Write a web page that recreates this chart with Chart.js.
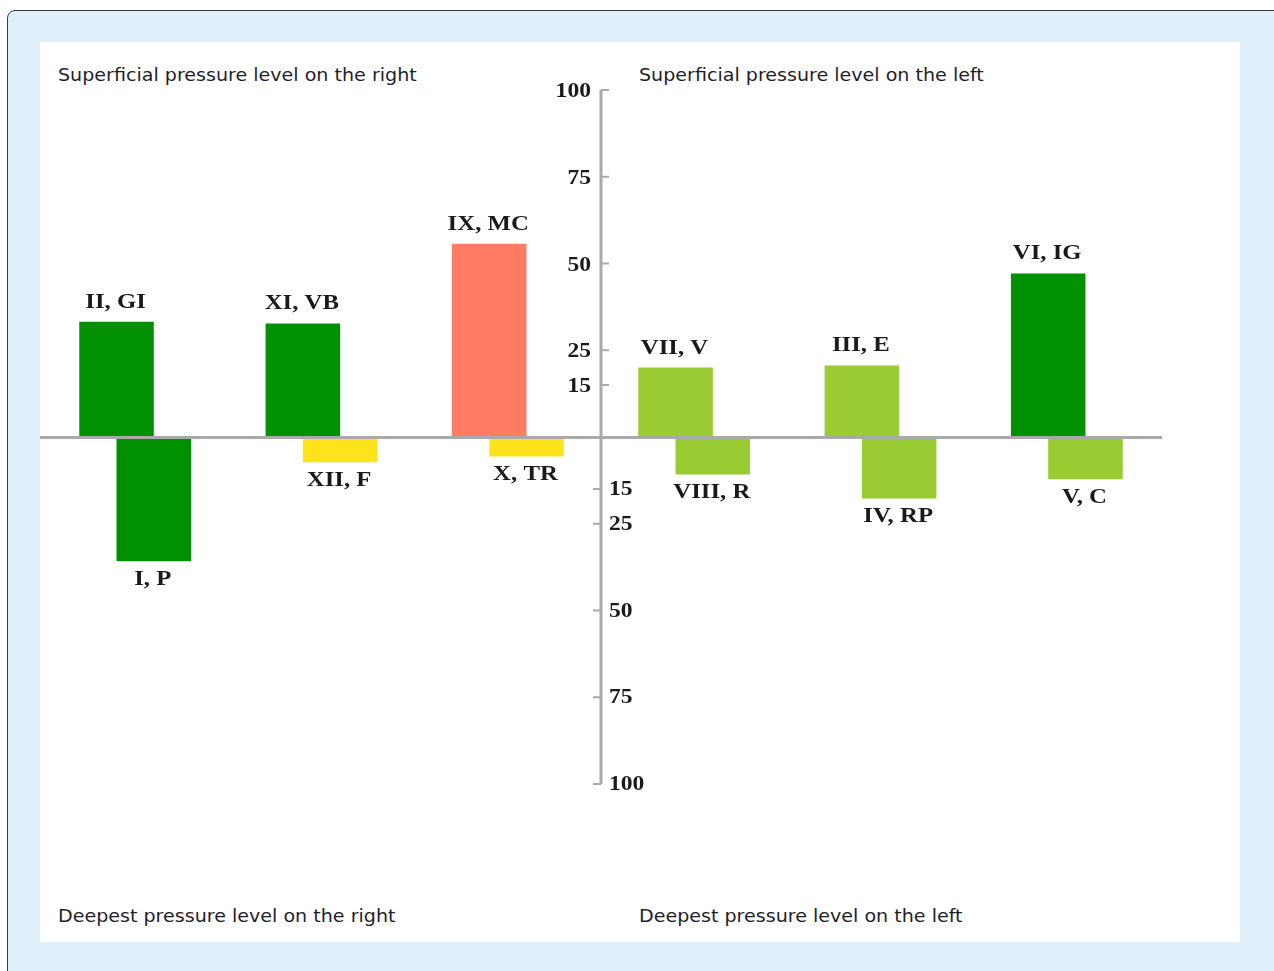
<!DOCTYPE html>
<html>
<head>
<meta charset="utf-8">
<script src="https://cdn.jsdelivr.net/npm/chart.js@4/dist/chart.umd.min.js"></script>
<style>
  html, body { margin: 0; padding: 0; background: #fff; }
  body { width: 1274px; height: 971px; position: relative; overflow: hidden; }
  .frame { position: absolute; left: 7px; top: 10px; width: 1290px; height: 1000px;
    background: #dff0fb; border: 1.5px solid #3a3a3a; border-radius: 8px; }
  .panel { position: absolute; left: 40px; top: 42px; width: 1200px; height: 900px; background: #fff; }
  canvas { position: absolute; left: 0; top: 0; }
  .corner { position: absolute; font-family: Tahoma, "DejaVu Sans", sans-serif; font-size: 18px;
    color: #1e1e2a; white-space: nowrap; line-height: 20px;
    transform: scaleX(1.06); transform-origin: 0 50%; }
</style>
</head>
<body>
<div class="frame"></div>
<div class="panel"></div>
<div class="corner" style="left:58px;top:65px">Superficial pressure level on the right</div>
<div class="corner" style="left:639px;top:65px">Superficial pressure level on the left</div>
<div class="corner" style="left:58px;top:906px">Deepest pressure level on the right</div>
<div class="corner" style="left:639px;top:906px">Deepest pressure level on the left</div>
<canvas id="chart" width="1274" height="971"></canvas>
<script>
  // meridian pairs, one per slot: superficial (up) and deep (down)
  const upperLabels = ['II, GI', 'XI, VB', 'IX, MC', 'VII, V', 'III, E', 'VI, IG'];
  const lowerLabels = ['I, P', 'XII, F', 'X, TR', 'VIII, R', 'IV, RP', 'V, C'];
  const upperValues = [33.2, 32.7, 55.7, 20.0, 20.6, 47.1];
  const lowerValues = [-35.8, -7.3, -5.6, -10.8, -17.7, -12.2];
  const topTicks = [100, 75, 50, 25, 15];
  const bottomTicks = [15, 25, 50, 75, 100];

  const DARK = '#009000', LIGHT = '#99cc33', SALMON = '#ff7b63', YELLOW = '#ffe31a';
  const upperColors = [DARK, DARK, SALMON, LIGHT, LIGHT, DARK];
  const lowerColors = [DARK, YELLOW, YELLOW, LIGHT, LIGHT, LIGHT];

  const AXIS = '#a9a9a9';
  const SERIF = 'bold 21px "Liberation Serif", "Times New Roman", serif';
  const TICKFONT = 'bold 20px "Liberation Serif", "Times New Roman", serif';
  const STRETCH = 1.18;   // the source text is wider than Liberation Serif

  function wideText(ctx, txt, x, y) {
    ctx.save();
    ctx.translate(x, y);
    ctx.scale(STRETCH, 1);
    ctx.fillText(txt, 0, 0);
    ctx.restore();
  }

  const decor = {
    id: 'decor',
    afterDatasetsDraw(chart) {
      const ctx = chart.ctx;
      const x = chart.scales.x, y = chart.scales.y;
      const area = chart.chartArea;
      const y0 = y.getPixelForValue(0);
      const ax = Math.round((x.getPixelForValue(2) + x.getPixelForValue(3)) / 2);

      ctx.save();
      // zero line
      ctx.strokeStyle = AXIS;
      ctx.lineWidth = 3;
      ctx.beginPath();
      ctx.moveTo(area.left - 2, y0 + 0.5);
      ctx.lineTo(area.right + 2, y0 + 0.5);
      ctx.stroke();

      // vertical axis
      const yTop = y.getPixelForValue(100), yBot = y.getPixelForValue(-100);
      ctx.beginPath();
      ctx.moveTo(ax, yTop);
      ctx.lineTo(ax, yBot);
      ctx.stroke();

      ctx.lineWidth = 2;
      ctx.fillStyle = '#1a1a1a';
      ctx.font = TICKFONT;
      ctx.textBaseline = 'middle';
      topTicks.forEach(v => {
        const py = y.getPixelForValue(v);
        ctx.beginPath();
        ctx.moveTo(ax, py);
        ctx.lineTo(ax + 8, py);
        ctx.stroke();
        ctx.textAlign = 'right';
        wideText(ctx, String(v), ax - 10, py + 2);
      });
      bottomTicks.forEach(v => {
        const py = y.getPixelForValue(-v);
        ctx.beginPath();
        ctx.moveTo(ax, py);
        ctx.lineTo(ax - 8, py);
        ctx.stroke();
        ctx.textAlign = 'left';
        wideText(ctx, String(v), ax + 8, py + 1);
      });

      // bar labels
      ctx.font = SERIF;
      ctx.textAlign = 'center';
      const up = chart.getDatasetMeta(0).data;
      const dn = chart.getDatasetMeta(1).data;
      ctx.textBaseline = 'bottom';
      up.forEach((b, i) => wideText(ctx, upperLabels[i], b.x - 1, b.y - 9));
      ctx.textBaseline = 'top';
      dn.forEach((b, i) => wideText(ctx, lowerLabels[i], b.x - 1, b.y + 8));
      ctx.restore();
    }
  };

  new Chart(document.getElementById('chart'), {
    type: 'bar',
    data: {
      labels: upperLabels.map((u, i) => u + ' / ' + lowerLabels[i]),
      datasets: [
        { label: 'Superficial', data: upperValues, backgroundColor: upperColors, borderWidth: 0 },
        { label: 'Deep', data: lowerValues, backgroundColor: lowerColors, borderWidth: 0 }
      ]
    },
    options: {
      responsive: false,
      animation: false,
      devicePixelRatio: 1,
      categoryPercentage: 0.4,
      barPercentage: 2,
      layout: { padding: { left: 42, right: 114, top: 90, bottom: 187 } },
      plugins: { legend: { display: false }, tooltip: { enabled: false } },
      scales: {
        x: { display: false, offset: true },
        y: { display: false, min: -100, max: 100 }
      }
    },
    plugins: [decor]
  });
</script>
</body>
</html>
